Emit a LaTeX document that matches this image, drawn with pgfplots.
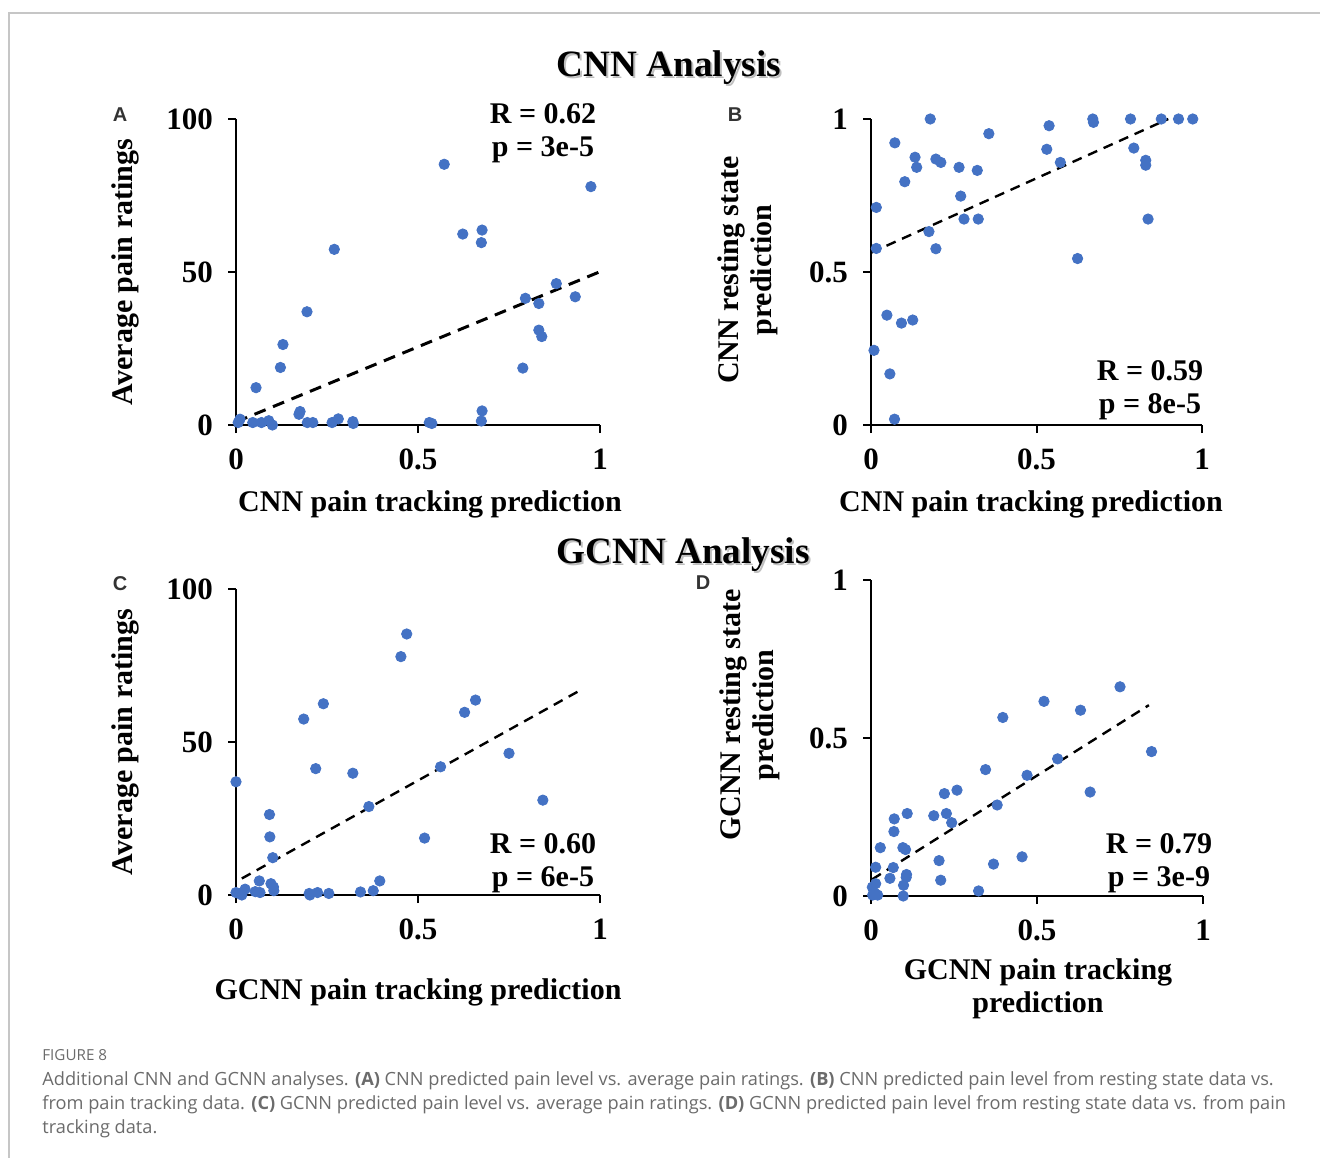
\documentclass[border=0pt]{standalone}
\usepackage{fontspec}
\setmainfont{Liberation Serif}
\newfontfamily\capfont{Open Sans}
\newfontfamily\letfont{Liberation Sans}
\usepackage{pgfplots}
\pgfplotsset{compat=1.18}
\definecolor{dotblue}{HTML}{4472C4}
\definecolor{capgray}{HTML}{6B6B6B}

\pgfplotsset{
  panel/.style={
    scale only axis,
    axis lines*=left,
    tick align=outside,
    major tick length=4pt,
    axis line style={line width=1pt},
    every tick/.style={black, line width=1pt},
    xmin=0, xmax=1,
    xtick={0,0.5,1},
    /pgf/number format/assume math mode=true,
    tick label style={font=\fontsize{15.5}{16}\selectfont\bfseries},
    xticklabel style={yshift=-4.5pt},
    yticklabel style={xshift=-4pt},
    clip=false,
  },
  dots/.style={only marks, mark=*, mark size=2.6pt, color=dotblue, mark options={draw=none, fill=dotblue}},
  trend/.style={black, line width=1.2pt, dash pattern=on 5pt off 3.5pt},
}

\begin{document}
\begin{tikzpicture}
\useasboundingbox (0,0) rectangle (660pt,579pt);

% A
\begin{axis}[panel, at={(118pt,366.5pt)}, anchor=south west,
  width=182pt, height=153pt, ymin=0, ymax=100, ytick={0,50,100}]
\addplot[dots] coordinates {
 (0.572,85.2) (0.975,77.9) (0.623,62.4) (0.676,63.7) (0.674,59.6) (0.270,57.4)
 (0.880,46.2) (0.795,41.4) (0.832,39.7) (0.932,41.9) (0.832,31.0) (0.840,28.9)
 (0.788,18.6) (0.195,37.0) (0.129,26.3) (0.122,18.8) (0.055,12.2) (0.176,4.4)
 (0.173,3.5) (0.676,4.6) (0.674,1.3) (0.011,1.9) (0.006,0.8) (0.046,0.8)
 (0.070,0.8) (0.090,1.4) (0.100,0) (0.196,0.8) (0.211,0.8) (0.264,0.8)
 (0.281,2.0) (0.321,1.1) (0.322,0.5) (0.531,0.8) (0.538,0.5)};
\addplot[trend, line width=1.5pt, dash pattern=on 6pt off 4pt] coordinates {(0,1.0) (1,50.1)};
\end{axis}

% B
\begin{axis}[panel, at={(435.5pt,366.5pt)}, anchor=south west,
  width=165.5pt, height=153pt, ymin=0, ymax=1, ytick={0,0.5,1}]
\addplot[dots] coordinates {
 (0.179,1.0) (0.072,0.922) (0.356,0.952) (0.538,0.978) (0.670,1.0) (0.672,0.989)
 (0.784,1.0) (0.877,1.0) (0.929,1.0) (0.972,1.0) (0.531,0.901) (0.794,0.905)
 (0.133,0.875) (0.138,0.842) (0.196,0.869) (0.211,0.858) (0.266,0.842) (0.321,0.832)
 (0.572,0.858) (0.830,0.865) (0.830,0.849) (0.102,0.795) (0.271,0.748) (0.016,0.711)
 (0.281,0.673) (0.324,0.673) (0.837,0.673) (0.175,0.632) (0.016,0.577) (0.196,0.576)
 (0.624,0.544) (0.048,0.359) (0.092,0.333) (0.126,0.343) (0.009,0.244) (0.057,0.167)
 (0.071,0.019)};
\addplot[trend] coordinates {(0,0.563) (0.898,1.0)};
\end{axis}

% C
\begin{axis}[panel, at={(118pt,131.5pt)}, anchor=south west,
  width=182pt, height=153pt, ymin=0, ymax=100, ytick={0,50,100}]
\addplot[dots] coordinates {
 (0.469,85.3) (0.453,77.9) (0.240,62.5) (0.186,57.5) (0.658,63.7) (0.628,59.7)
 (0.750,46.3) (0.562,41.9) (0.219,41.3) (0.321,39.8) (0.0,37.0) (0.843,31.0)
 (0.365,28.9) (0.092,26.3) (0.093,19.0) (0.518,18.6) (0.101,12.2) (0.064,4.6)
 (0.395,4.6) (0.096,3.7) (0.103,2.6) (0.104,1.4) (0.025,1.9) (0.0,0.8)
 (0.008,0.5) (0.016,0) (0.053,1.1) (0.066,0.8) (0.201,0.5) (0.203,0)
 (0.224,0.8) (0.255,0.5) (0.342,1.0) (0.377,1.4)};
\addplot[trend] coordinates {(0.016,5.4) (0.947,67.0)};
\end{axis}

% D
\begin{axis}[panel, at={(435.5pt,131pt)}, anchor=south west,
  width=166pt, height=158pt, ymin=0, ymax=1, ytick={0,0.5,1}]
\addplot[dots] coordinates {
 (0.750,0.662) (0.521,0.616) (0.631,0.588) (0.397,0.565) (0.845,0.457) (0.562,0.434)
 (0.345,0.400) (0.470,0.382) (0.660,0.329) (0.259,0.335) (0.221,0.324) (0.380,0.288)
 (0.109,0.261) (0.189,0.254) (0.227,0.261) (0.243,0.232) (0.070,0.244) (0.069,0.204)
 (0.028,0.153) (0.096,0.153) (0.104,0.147) (0.455,0.124) (0.205,0.112) (0.369,0.101)
 (0.014,0.091) (0.067,0.090) (0.057,0.056) (0.107,0.068) (0.106,0.059) (0.210,0.050)
 (0.098,0.034) (0.014,0.039) (0.004,0.028) (0.005,0.003) (0.020,0.003) (0.097,0)
 (0.324,0.016) (0.012,0.008)};
\addplot[trend] coordinates {(0.004,0.053) (0.837,0.604)};
\end{axis}

\begin{scope}[x=0.5pt, y=-0.5pt, yshift=579pt]
  % frame
  \draw[gray!45, line width=0.6pt] (1320,13) -- (9,13) -- (9,1158);

  % titles with shadow
  \node[gray!50, font=\fontsize{18.6}{20}\selectfont\bfseries] at (671,70) {CNN Analysis};
  \node[font=\fontsize{18.6}{20}\selectfont\bfseries] at (669,68) {CNN Analysis};
  \node[gray!50, font=\fontsize{18.6}{20}\selectfont\bfseries] at (685,557) {GCNN Analysis};
  \node[font=\fontsize{18.6}{20}\selectfont\bfseries] at (683,555) {GCNN Analysis};

  % panel letters
  \begin{scope}[every node/.style={font=\letfont\fontsize{10}{10}\selectfont\bfseries, text=black!80}]
    \node at (120,115) {A};
    \node at (735,115) {B};
    \node at (120,584) {C};
    \node at (703,583) {D};
  \end{scope}

  \begin{scope}[every node/.style={font=\fontsize{15}{16.5}\selectfont\bfseries, align=center}]
    % y labels
    \node[rotate=90] at (125,272) {Average pain ratings};
    \node[rotate=90] at (748,270) {CNN resting state\\prediction};
    \node[rotate=90] at (125,742) {Average pain ratings};
    \node[rotate=90] at (750,715) {GCNN resting state\\prediction};
    % x labels
    \node at (430,504) {CNN pain tracking prediction};
    \node at (1031,504) {CNN pain tracking prediction};
    \node at (418,992) {GCNN pain tracking prediction};
    \node at (1038,989) {GCNN pain tracking\\prediction};
    % stats
    \node at (543,133) {R = 0.62\\p = 3e-5};
    \node at (1150,390) {R = 0.59\\p = 8e-5};
    \node at (543,863) {R = 0.60\\p = 6e-5};
    \node at (1159,863) {R = 0.79\\p = 3e-9};
  \end{scope}

  % caption
  \begin{scope}[every node/.style={anchor=west, inner sep=0pt, text=capgray, font=\capfont\fontsize{9.1}{10}\selectfont}]
    \node[font=\capfont\fontsize{7.6}{8}\selectfont] at (42,1055) {FIGURE 8};
    \node at (42,1081) {Additional CNN and GCNN analyses. \textbf{(A)} CNN predicted pain level vs. average pain ratings. \textbf{(B)} CNN predicted pain level from resting state data vs.};
    \node at (42,1105) {from pain tracking data. \textbf{(C)} GCNN predicted pain level vs. average pain ratings. \textbf{(D)} GCNN predicted pain level from resting state data vs. from pain};
    \node at (42,1129) {tracking data.};
  \end{scope}
\end{scope}
\end{tikzpicture}
\end{document}
